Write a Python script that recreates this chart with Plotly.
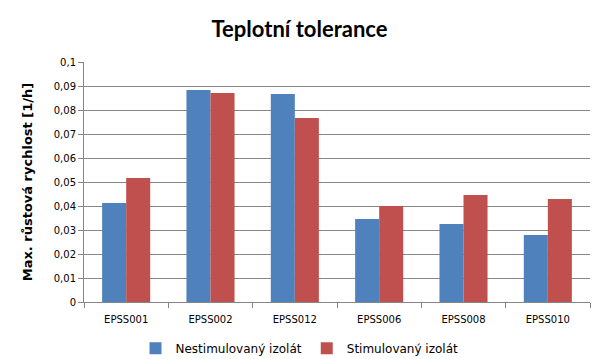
import plotly.graph_objects as go

categories = ["EPSS001", "EPSS002", "EPSS012", "EPSS006", "EPSS008", "EPSS010"]
nestimulovany = [0.0413, 0.0883, 0.0867, 0.0346, 0.0325, 0.0279]
stimulovany = [0.0517, 0.0871, 0.0767, 0.0400, 0.0446, 0.0429]
series_names = ["Nestimulovaný izolát", "Stimulovaný izolát"]

fig = go.Figure()
fig.add_trace(go.Bar(x=categories, y=nestimulovany, name=series_names[0],
                     marker=dict(color="#4F81BD", line=dict(width=0))))
fig.add_trace(go.Bar(x=categories, y=stimulovany, name=series_names[1],
                     marker=dict(color="#C0504D", line=dict(width=0))))

fig.update_layout(
    width=599, height=359,
    margin=dict(l=84, r=9, t=62, b=57, autoexpand=False),
    paper_bgcolor="white", plot_bgcolor="white",
    separators=", ",
    barmode="group", bargap=0.43, bargroupgap=0,
    title=dict(text="<b>Teplotní tolerance</b>", x=0.5, xanchor="center",
               y=0.918, yanchor="middle",
               font=dict(family="Lato, Open Sans, sans-serif", size=22, color="black")),
    font=dict(family="DejaVu Sans, Verdana, sans-serif", size=10, color="black"),
    legend=dict(orientation="h", x=0.5, xanchor="center", xref="container",
                y=0.03, yanchor="middle", yref="container",
                font=dict(family="DejaVu Sans, sans-serif", size=12, color="black"),
                itemwidth=30, traceorder="normal"),
    showlegend=True,
)
fig.update_yaxes(range=[0, 0.1], dtick=0.01, tick0=0,
                 showgrid=True, gridcolor="#868686", gridwidth=1,
                 showline=True, linecolor="#868686", linewidth=1,
                 ticks="outside", ticklen=5, tickcolor="#868686",
                 zeroline=False,
                 title=dict(text="<b>Max. růstová rychlost [1/h]</b>",
                            font=dict(family="DejaVu Sans, sans-serif", size=13), standoff=18))
fig.update_xaxes(showline=True, linecolor="#868686", linewidth=1,
                 ticks="outside", ticklen=5, tickcolor="#868686", tickson="boundaries",
                 ticklabelstandoff=8, showgrid=False)

fig.write_html("out.html", config={"displayModeBar": False},
               post_script="document.body.style.margin='0';document.body.style.overflow='hidden';")
